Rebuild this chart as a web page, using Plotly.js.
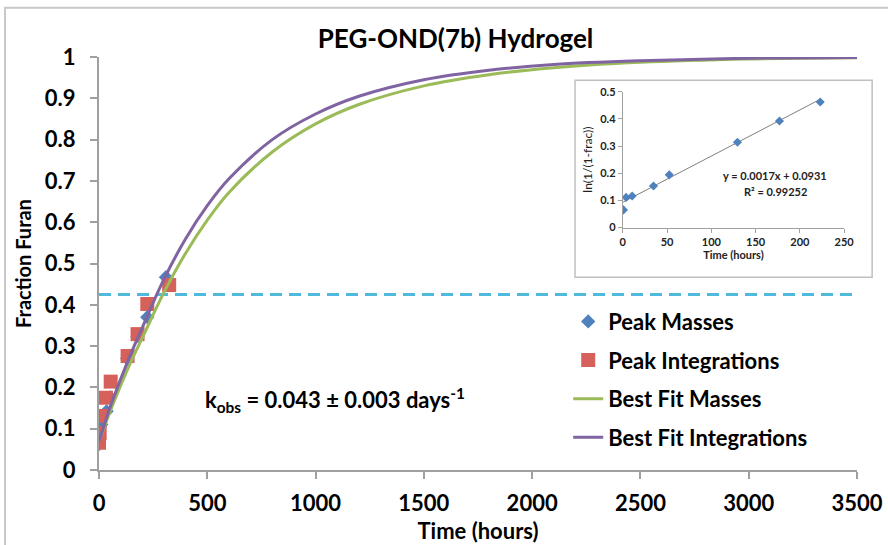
<!DOCTYPE html>
<html>
<head>
<meta charset="utf-8">
<script src="https://cdn.plot.ly/plotly-3.0.1.min.js"></script>
<style>html,body{margin:0;padding:0;background:#fff;}#chart{width:888px;height:545px;}</style>
</head>
<body>
<div id="chart"></div>
<script>
// Main chart data
const massTime = [0, 4, 10, 35, 52, 130, 177, 223, 309];
const massFrac = [0.063, 0.105, 0.11, 0.142, 0.176, 0.27, 0.324, 0.37, 0.467];
const integTime = [0, 3, 6, 32, 54, 132, 178, 223, 324];
const integFrac = [0.066, 0.09, 0.131, 0.175, 0.214, 0.276, 0.329, 0.402, 0.448];
const fitTime = [0, 25, 50, 100, 150, 200, 300, 400, 500, 600, 800, 1000, 1200, 1500, 1800, 2100, 2500, 3000, 3500];
const fitMasses = [0.07, 0.105, 0.14, 0.205, 0.265, 0.32, 0.43, 0.525, 0.605, 0.672, 0.77, 0.838, 0.885, 0.93, 0.957, 0.974, 0.987, 0.995, 0.998];
const fitInteg = [0.07, 0.11, 0.15, 0.22, 0.285, 0.345, 0.462, 0.56, 0.64, 0.705, 0.80, 0.862, 0.905, 0.945, 0.968, 0.982, 0.991, 0.997, 0.999];
const thresholdX = [0, 3500];
const thresholdY = [0.425, 0.425];
const xTicks = [0, 500, 1000, 1500, 2000, 2500, 3000, 3500];
const yTicks = [0, 0.1, 0.2, 0.3, 0.4, 0.5, 0.6, 0.7, 0.8, 0.9, 1];
const yTickText = ['0', '0.1', '0.2', '0.3', '0.4', '0.5', '0.6', '0.7', '0.8', '0.9', '1'];

// Inset data
const insetTime = [0.8, 3.8, 10.6, 34.7, 52.5, 129.5, 177, 223];
const insetLn = [0.065, 0.111, 0.116, 0.153, 0.194, 0.314, 0.392, 0.462];
const insetTrendX = [0, 223];
const insetTrendY = [0.0931, 0.472];
const insetXTicks = [0, 50, 100, 150, 200, 250];
const insetYTicks = [0, 0.1, 0.2, 0.3, 0.4, 0.5];
const insetYText = ['0', '0.1', '0.2', '0.3', '0.4', '0.5'];

const FONT = 'Lato, "Open Sans", sans-serif';
const BOLD = {family: FONT, size: 22, color: '#000', weight: 'bold'};
const SMALL = {family: FONT, size: 11, color: '#222', weight: 'bold'};

const traces = [
  {x: thresholdX, y: thresholdY, mode: 'lines', showlegend: false, hoverinfo: 'skip',
   line: {color: '#4fbadb', width: 3, dash: '12px,7px'}},
  {x: massTime, y: massFrac, mode: 'markers', name: 'Peak Masses', legendgroup: 'a',
   marker: {symbol: 'diamond', size: 11, color: '#4f81bd'}},
  {x: integTime, y: integFrac, mode: 'markers', name: 'Peak Integrations', legendgroup: 'b',
   marker: {symbol: 'square', size: 14, color: '#d6615a'}},
  {x: fitTime, y: fitMasses, mode: 'lines', name: 'Best Fit Masses', legendgroup: 'c',
   line: {color: '#9bbb59', width: 3, shape: 'spline'}},
  {x: fitTime, y: fitInteg, mode: 'lines', name: 'Best Fit Integrations', legendgroup: 'd',
   line: {color: '#8064a2', width: 3, shape: 'spline'}},
  {x: insetTrendX, y: insetTrendY, xaxis: 'x2', yaxis: 'y2', mode: 'lines', showlegend: false,
   line: {color: '#7f7f7f', width: 1}},
  {x: insetTime, y: insetLn, xaxis: 'x2', yaxis: 'y2', mode: 'markers', showlegend: false,
   marker: {symbol: 'diamond', size: 7, color: '#4f81bd'}}
];

const layout = {
  width: 888, height: 545,
  margin: {l: 99, r: 31, t: 57, b: 75},
  paper_bgcolor: '#fff', plot_bgcolor: 'rgba(0,0,0,0)',
  showlegend: true,
  title: {text: 'PEG-OND(7b) Hydrogel', x: 0.513, xref: 'container', y: 0.929, yref: 'container',
          xanchor: 'center', yanchor: 'middle', font: {family: FONT, size: 26, color: '#000', weight: 'bold'}},
  xaxis: {range: [0, 3500], tickvals: xTicks, ticktext: xTicks.map(String), showgrid: false, zeroline: false,
          showline: true, linecolor: '#a0a0a0', linewidth: 2, ticks: 'outside', ticklen: 7, tickwidth: 2, tickcolor: '#a0a0a0',
          ticklabelstandoff: 6, tickfont: BOLD,
          title: {text: 'Time (hours)', font: {family: FONT, size: 22, color: '#000', weight: 'bold'}, standoff: 8}, fixedrange: true},
  yaxis: {range: [0, 1], tickvals: yTicks, ticktext: yTickText, showgrid: false, zeroline: false,
          showline: true, linecolor: '#a0a0a0', linewidth: 2, ticks: 'outside', ticklen: 7, tickwidth: 2, tickcolor: '#a0a0a0',
          ticklabelstandoff: 10, tickfont: BOLD,
          title: {text: 'Fraction Furan', font: {family: FONT, size: 20, color: '#000', weight: 'bold'}, standoff: 8}, fixedrange: true},
  xaxis2: {domain: [0.691, 0.983], anchor: 'y2', range: [0, 250], tickvals: insetXTicks, showgrid: false, zeroline: false,
           showline: true, linecolor: '#a0a0a0', linewidth: 1, ticks: 'outside', ticklen: 4, tickcolor: '#a0a0a0',
           tickfont: SMALL, title: {text: 'Time (hours)', font: SMALL, standoff: 3}},
  yaxis2: {domain: [0.587, 0.916], anchor: 'x2', range: [0, 0.5], tickvals: insetYTicks, ticktext: insetYText, showgrid: false, zeroline: false,
           showline: true, linecolor: '#a0a0a0', linewidth: 1, ticks: 'outside', ticklen: 4, tickcolor: '#a0a0a0',
           tickfont: SMALL, title: {text: 'ln(1/(1-frac))', font: {family: FONT, size: 12, color: '#222'}, standoff: 4}},
  legend: {x: 0.619, y: 0.41, xanchor: 'left', yanchor: 'top', bgcolor: 'rgba(0,0,0,0)', borderwidth: 0,
           font: BOLD, tracegroupgap: 7, itemclick: false},
  shapes: [
    {type: 'rect', xref: 'paper', yref: 'paper', x0: -0.124, x1: 1.06, y0: -0.3, y1: 1.119,
     line: {color: '#c8c8c8', width: 2}, fillcolor: 'rgba(0,0,0,0)', layer: 'below'},
    {type: 'rect', xref: 'paper', yref: 'paper', x0: 0.628, x1: 1.02, y0: 0.467, y1: 0.944,
     line: {color: '#c0c0c0', width: 1.5}, fillcolor: '#fff', layer: 'below'}
  ],
  annotations: [
    {text: 'k<sub>obs</sub> = 0.043 ± 0.003 days<sup>-1</sup>', xref: 'x', yref: 'y', x: 1090, y: 0.17,
     showarrow: false, font: BOLD, xanchor: 'center', yanchor: 'middle'},
    {text: 'y = 0.0017x + 0.0931', xref: 'x2', yref: 'y2', x: 172, y: 0.19, showarrow: false, font: SMALL},
    {text: 'R² = 0.99252', xref: 'x2', yref: 'y2', x: 172, y: 0.132, showarrow: false, font: SMALL}
  ]
};

Plotly.newPlot('chart', traces, layout, {displayModeBar: false, staticPlot: true});
</script>
</body>
</html>
